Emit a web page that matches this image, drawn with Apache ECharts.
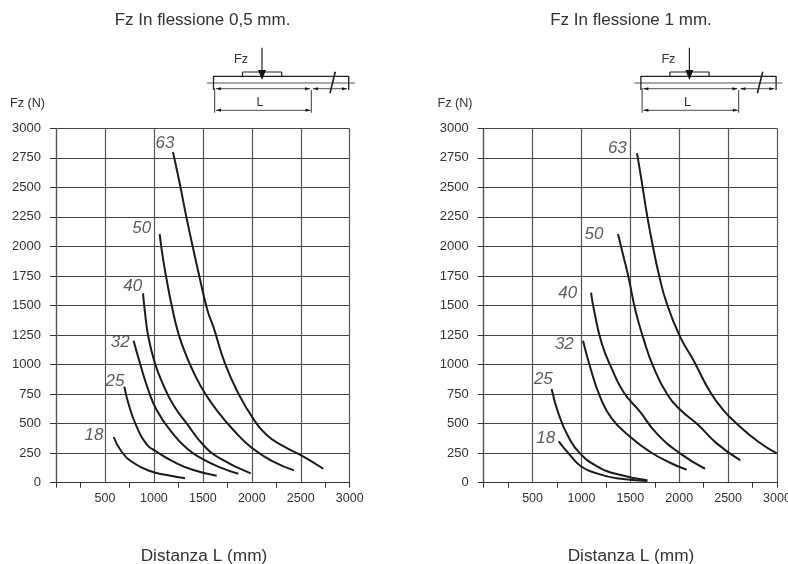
<!DOCTYPE html>
<html><head><meta charset="utf-8">
<style>html,body{margin:0;padding:0;background:#fff}#c{width:788px;height:564px}</style>
<script src="https://cdn.jsdelivr.net/npm/echarts@6/dist/echarts.min.js"></script>
</head><body><div id="c"></div>
<script>
var sizes = ['63','50','40','32','25','18'];
var yTicks = 250, xTicks = 500;
var xLabelValues = [500,1000,1500,2000,2500,3000];
var xTickValues = [0,250,750,1250,1750,2250,2750,3000];

var left63 = [[1195,2800],[1267,2520],[1328,2263],[1393,2012],[1461,1758],[1546,1462],[1607,1321],[1726,1010],[1863,756],[2006,553],[2152,403],[2322,310],[2510,229],[2731,118]];
var left50 = [[1059,2105],[1090,1913],[1131,1716],[1182,1500],[1250,1264],[1335,1067],[1420,911],[1512,770],[1641,615],[1812,446],[2006,291],[2220,178],[2431,104]];
var left40 = [[889,1603],[906,1462],[943,1236],[1011,1010],[1096,827],[1199,658],[1335,502],[1505,319],[1675,206],[1989,79]];
var left32 = [[793,1202],[858,1010],[943,785],[1028,615],[1165,446],[1335,291],[1505,198],[1675,130],[1862,76]];
var left25 = [[698,813],[739,672],[824,474],[926,325],[1028,262],[1199,178],[1403,107],[1641,59]];
var left18 = [[589,387],[671,262],[790,169],[960,99],[1130,65],[1318,37]];

var right63 = [[1568,2790],[1609,2588],[1674,2250],[1728,2012],[1793,1758],[1872,1518],[2008,1236],[2144,1038],[2315,770],[2451,615],[2622,474],[2809,347],[2997,248]];
var right50 = [[1374,2105],[1422,1941],[1480,1744],[1551,1462],[1633,1222],[1735,982],[1880,745],[2008,620],[2195,488],[2383,333],[2625,189]];
var right40 = [[1098,1608],[1128,1462],[1207,1180],[1309,968],[1428,770],[1598,601],[1769,418],[2008,248],[2264,118]];
var right32 = [[1016,1202],[1088,982],[1190,728],[1309,545],[1497,389],[1701,262],[1906,169],[2076,110]];
var right25 = [[695,793],[764,587],[866,389],[985,248],[1156,141],[1360,73],[1674,20]];
var right18 = [[767,350],[883,234],[1002,135],[1156,79],[1360,37],[1674,14]];

var leftTagAnchors = [[1113,2873],[875,2153],[783,1665],[657,1188],[603,861],[388,401]];
var rightTagAnchors = [[1367,2833],[1128,2103],[859,1603],[825,1174],[610,875],[634,378]];

var FONT = '"Liberation Sans", Arial, sans-serif';
var INK = '#1c1c1c', TXT = '#333';

function grid(l, r){ return {left:l, width:r-l, top:128.3, height:354.4, containLabel:false, outerBoundsMode:'none'}; }
function plain(v){ return String(v); }
function xAxis(i){ return {
  gridIndex:i, type:'value', min:0, max:3000, interval:xTicks,
  axisLine:{show:true,onZero:false,lineStyle:{color:'#333',width:1}},
  axisTick:{show:false}, axisLabel:{show:false},
  splitLine:{show:true,lineStyle:{color:'#555',width:1.2}}
};}
function xTickAxis(i){ return {
  gridIndex:i, type:'value', min:0, max:3000, interval:xTicks, position:'bottom',
  axisLine:{show:false,onZero:false},
  axisTick:{show:true,length:5,customValues:xTickValues,lineStyle:{color:'#333',width:1}},
  axisLabel:{show:true,customValues:xLabelValues,margin:9,formatter:plain,fontFamily:FONT,fontSize:12.5,color:TXT,hideOverlap:false},
  splitLine:{show:false}
};}
function yAxis(i){ return {
  gridIndex:i, type:'value', min:0, max:3000, interval:yTicks,
  axisLine:{show:true,onZero:false,lineStyle:{color:'#555',width:1.2}},
  axisTick:{show:true,length:6,lineStyle:{color:'#333',width:1}},
  axisLabel:{margin:15,formatter:plain,fontFamily:FONT,fontSize:13,color:TXT,align:'right'},
  splitLine:{show:true,lineStyle:{color:'#444',width:1}}
};}
function curve(i,d){ return {type:'line',xAxisIndex:i,yAxisIndex:i,data:d,smooth:0.5,showSymbol:false,symbol:'none',silent:true,z:5,
  lineStyle:{color:INK,width:2,cap:'butt'}}; }
function tags(i,pts){ return {type:'scatter',xAxisIndex:i,yAxisIndex:i,symbolSize:0,silent:true,z:6,
  data:pts.map(function(p,k){return {value:p,name:sizes[k]};}),
  label:{show:true,position:'inside',formatter:'{b}',fontFamily:FONT,fontStyle:'italic',fontSize:17,color:TXT}}; }

function txt(x,y,s,size,align){ return {type:'text',x:x,y:y,silent:true,style:{text:s,font:(size||12)+'px '+FONT,fill:TXT,textAlign:align||'center',textVerticalAlign:'middle'}}; }
function ln(x1,y1,x2,y2,w,c){ return {type:'line',silent:true,shape:{x1:x1,y1:y1,x2:x2,y2:y2},style:{stroke:c||'#222',lineWidth:w||1}}; }
function tri(pts){ return {type:'polygon',silent:true,shape:{points:pts},style:{fill:'#111'}}; }
function dim(x1,x2,y){ return [ln(x1,y,x2,y,0.8),
  tri([[x1,y],[x1+5,y-1.5],[x1+5,y+1.5]]),tri([[x2,y],[x2-5,y-1.5],[x2-5,y+1.5]])]; }
function diagram(d){
  var a=[
    ln(d+207,83,d+355,83,1,'#555'),
    ln(d+213.5,76.3,d+348.7,76.3,1.3),
    ln(d+213.5,76,d+213.5,90,1.3),
    ln(d+348.7,76,d+348.7,90,1.3),
    ln(d+242.5,72,d+281.7,72,1.2),
    ln(d+242.5,72,d+242.5,76,1.2),
    ln(d+281.7,72,d+281.7,76,1.2),
    ln(d+262,47.7,d+262,72,1.2),
    tri([[d+258,70],[d+266,70],[d+262,80]]),
    ln(d+335.3,71.7,d+330,93.3,1.6),
    ln(d+214.7,88,d+214.7,112.7,0.9),
    ln(d+311.3,90,d+311.3,112.7,0.9),
    txt(d+241,59.5,'Fz',12.6),
    txt(d+260,103,'L',12.6)
  ];
  return a.concat(dim(d+216,d+310,88.7),dim(d+313,d+347,88.7),dim(d+216,d+310.5,110.3));
}

var option = {
  animation:false, backgroundColor:'#fff',
  grid:[grid(56,349.7),grid(483.7,777)],
  xAxis:[xAxis(0),xAxis(1),xTickAxis(0),xTickAxis(1)], yAxis:[yAxis(0),yAxis(1)],
  series:[left63,left50,left40,left32,left25,left18].map(function(d){return curve(0,d);})
    .concat([right63,right50,right40,right32,right25,right18].map(function(d){return curve(1,d);}))
    .concat([tags(0,leftTagAnchors),tags(1,rightTagAnchors)]),
  graphic:[
    txt(202.5,20.5,'Fz In flessione 0,5 mm.',17),
    txt(631,20.5,'Fz In flessione 1 mm.',17),
    txt(27.5,103.5,'Fz (N)',12.6),
    txt(455,103.5,'Fz (N)',12.6),
    txt(204,556.5,'Distanza L (mm)',17.3),
    txt(631,556.5,'Distanza L (mm)',17.3)
  ].concat(diagram(0),diagram(427.4))
};
var chart = echarts.init(document.getElementById('c'),null,{renderer:'canvas'});
chart.setOption(option);
</script></body></html>
